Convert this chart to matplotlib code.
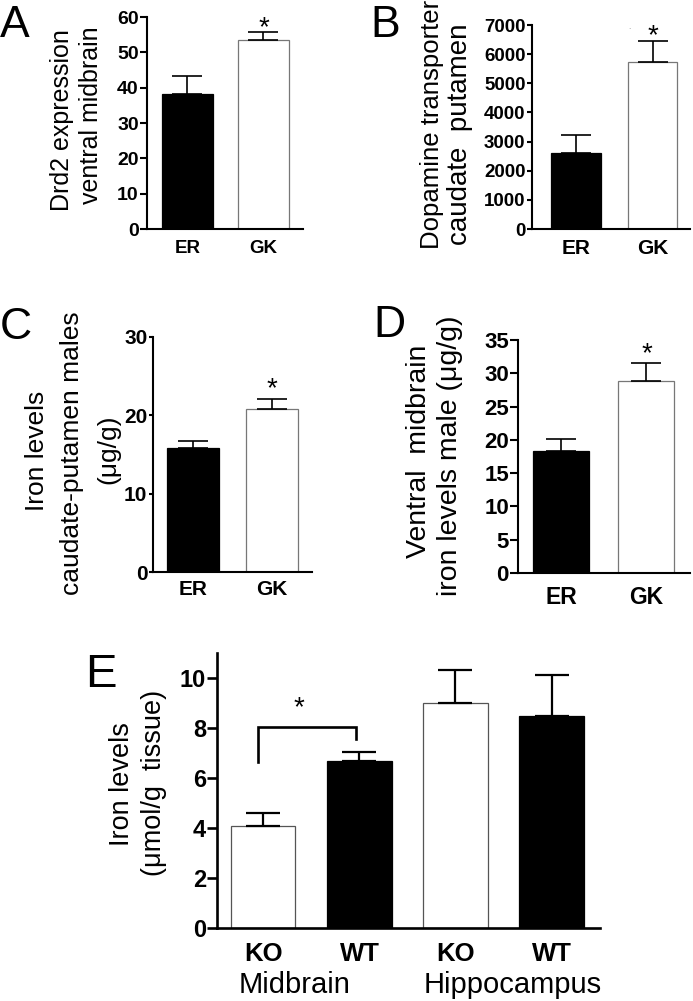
import numpy as np
import matplotlib.pyplot as plt

plt.rcParams['font.family'] = ['Liberation Sans', 'DejaVu Sans']

# data
strains = ['ER', 'GK']
drd2_mean = [38.3, 53.4]
drd2_sem = [5.0, 2.4]
dat_mean = [2620, 5720]
dat_sem = [620, 720]
iron_cp_mean = [15.8, 20.8]
iron_cp_sem = [0.9, 1.3]
iron_vm_mean = [18.4, 28.8]
iron_vm_sem = [1.7, 2.8]

genotypes = ['KO', 'WT', 'KO', 'WT']
regions = ['Midbrain', 'Hippocampus']
iron_e_mean = [4.1, 6.67, 9.0, 8.47]
iron_e_sem = [0.52, 0.37, 1.32, 1.65]

W, H = 693, 1001
fig = plt.figure(figsize=(W / 100, H / 100), dpi=100)


def place(x0, x1, ytop, ybot):
    return fig.add_axes([x0 / W, 1 - ybot / H, (x1 - x0) / W, (ybot - ytop) / H])


def ftext(x, y, s, **kw):
    fig.text(x / W, 1 - y / H, s, **kw)


def bar_panel(ax, mean, sem, colors, xlim, ylim, step, bw, ticksize, tlen,
              xlabsize, xpad, spine_lw=1.5, caps=11, elw=1.2, edge='#777777'):
    x = np.arange(len(mean))
    for xi, m, c in zip(x, mean, colors):
        ec = 'black' if c == 'black' else edge
        ax.bar(xi, m, width=bw, color=c, edgecolor=ec, linewidth=0.9, zorder=2)
    ax.errorbar(x, mean, yerr=[np.zeros(len(sem)), sem], fmt='none', ecolor='black',
                elinewidth=elw, capsize=caps, capthick=elw, zorder=3)
    ax.set_xlim(*xlim)
    ax.set_ylim(*ylim)
    ax.set_yticks(np.arange(ylim[0], ylim[1] + step / 2, step))
    for s in ['top', 'right']:
        ax.spines[s].set_visible(False)
    for s in ['left', 'bottom']:
        ax.spines[s].set_linewidth(spine_lw)
    ax.tick_params(axis='y', direction='out', length=tlen, width=spine_lw,
                   labelsize=ticksize, pad=1)
    ax.tick_params(axis='x', length=0, labelsize=xlabsize, pad=xpad)
    ax.set_xticks(x)
    return x


def bold_ticks(ax):
    for lab in ax.get_yticklabels() + ax.get_xticklabels():
        lab.set_fontweight('bold')


def star(ax, x, y, fs=20):
    ax.annotate('*', (x, y), xytext=(0, -0.57 * fs), textcoords='offset points',
                ha='center', va='baseline', fontsize=fs)


# panel A
axA = place(147, 303, 17, 229)
bar_panel(axA, drd2_mean, drd2_sem, ['black', 'white'], (-0.53, 1.52), (0, 60), 10,
          0.67, 14, 5, 13.5, 8)
axA.set_xticklabels(strains)
bold_ticks(axA)
star(axA, 1, 59.4)
ftext(62, 120, 'Drd2 expression', rotation=90, ha='center', va='center', fontsize=18)
ftext(91, 115, 'ventral midbrain', rotation=90, ha='center', va='center', fontsize=18)
ftext(0, 37, 'A', fontsize=32, ha='left', va='baseline')

# panel B
axB = place(532, 690, 25, 229)
bar_panel(axB, dat_mean, dat_sem, ['black', 'white'], (-0.575, 1.49), (0, 7000), 1000,
          0.65, 13.5, 3.6, 15, 7)
axB.set_xticklabels(strains)
bold_ticks(axB)
star(axB, 1, 6930)
axB.text(0.7, 6930, '.', fontsize=6, color='#888888', ha='center', va='center')
ftext(432, 249, 'Dopamine transporter', rotation=90, ha='center', va='bottom', fontsize=18.5)
ftext(460, 245, 'caudate  putamen', rotation=90, ha='center', va='bottom', fontsize=20)
ftext(370, 37, 'B', fontsize=32, ha='left', va='baseline')

# panel C
axC = place(153, 312, 337, 572)
bar_panel(axC, iron_cp_mean, iron_cp_sem, ['black', 'white'], (-0.506, 1.506), (0, 30), 10,
          0.66, 15, 3, 15, 6)
axC.set_xticklabels(strains)
bold_ticks(axC)
star(axC, 1, 24.5)
ftext(37, 451, 'Iron levels', rotation=90, ha='center', va='center', fontsize=19)
ftext(72, 453, 'caudate-putamen males', rotation=90, ha='center', va='center', fontsize=19)
ftext(108, 449, '(\u03bcg/g)', rotation=90, ha='center', va='center', fontsize=19)
ftext(0, 339, 'C', fontsize=32, ha='left', va='baseline')

# panel D
axD = place(518, 690, 340, 573)
bar_panel(axD, iron_vm_mean, iron_vm_sem, ['black', 'white'], (-0.503, 1.509), (0, 35), 5,
          0.655, 16, 5.5, 16.5, 9)
axD.set_xticklabels(strains)
bold_ticks(axD)
star(axD, 1, 34.2)
ftext(419, 451, 'Ventral  midbrain', rotation=90, ha='center', va='center', fontsize=20.5)
ftext(450, 456, 'iron levels male (\u03bcg/g)', rotation=90, ha='center', va='center',
      fontsize=20.5)
ftext(373, 337, 'D', fontsize=32, ha='left', va='baseline')

# panel E
axE = place(217, 600, 653, 928)
bar_panel(axE, iron_e_mean, iron_e_sem, ['white', 'black', 'white', 'black'],
          (-0.484, 3.505), (0, 11), 2, 0.667, 17, 7, 18.5, 10,
          spine_lw=1.9, caps=12, elw=1.6, edge='#555555')
axE.set_yticks(np.arange(0, 11, 2))
axE.set_xticklabels(genotypes)
bold_ticks(axE)
# significance bracket between the midbrain bars
axE.plot([-0.06, -0.06, 0.96, 0.96], [6.63, 8.03, 8.03, 7.55], color='black', lw=1.9,
         solid_joinstyle='miter', zorder=3)
star(axE, 0.37, 9.16)
for xpos, name in zip([0.32, 2.6], regions):
    axE.text(xpos, -0.235, name, transform=axE.get_xaxis_transform(), ha='center',
             va='baseline', fontsize=21)
ftext(122, 784, 'Iron levels', rotation=90, ha='center', va='center', fontsize=19.5)
ftext(154, 783, '(\u03bcmol/g  tissue)', rotation=90, ha='center', va='center', fontsize=19.5)
ftext(85, 687, 'E', fontsize=34, ha='left', va='baseline')

fig.savefig('out.png', dpi=100)
